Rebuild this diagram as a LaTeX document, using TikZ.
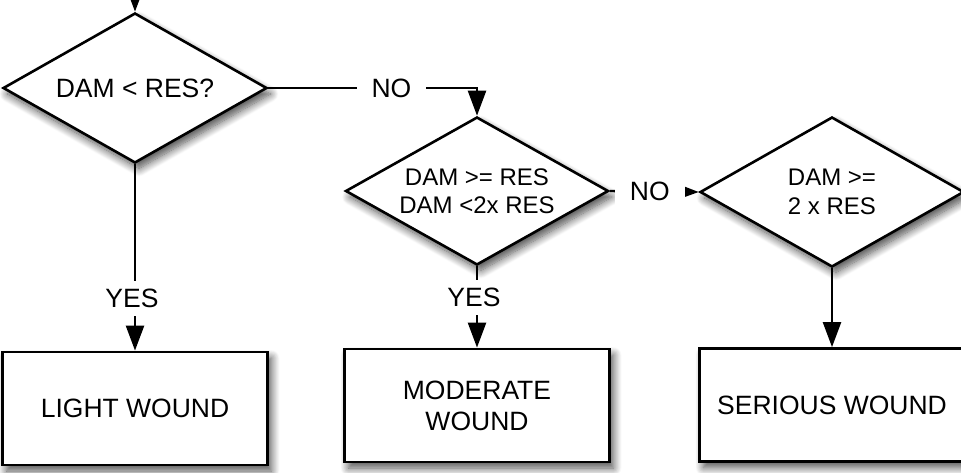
\documentclass[tikz,border=0pt]{standalone}
\usepackage{fontspec}
\setmainfont{Liberation Sans}
\usetikzlibrary{shapes.geometric,arrows.meta,shadows.blur}
\newcommand\bigtxt{\fontsize{26.5}{31}\selectfont}
\newcommand\midtxt{\fontsize{24}{28.5}\selectfont}
\begin{document}
\begin{tikzpicture}[x=1pt,y=-1pt,
  softshadow/.style={blur shadow={shadow xshift=4pt,shadow yshift=-6pt,shadow blur radius=8pt,shadow blur steps=12,shadow opacity=70}},
  decision/.style={diamond,draw,line width=2.6pt,fill=white,softshadow,inner sep=0pt,aspect=1.76,minimum width=264pt,minimum height=150pt,align=center},
  outcome/.style={rectangle,draw,line width=2.8pt,fill=white,softshadow,minimum width=265pt,minimum height=113pt,align=center,font=\bigtxt},
  flow/.style={line width=2.4pt,-{Triangle[length=25pt,width=18pt]}},
  lbl/.style={fill=white,inner xsep=15pt,inner ysep=8pt,font=\bigtxt}
]
\useasboundingbox (0,0) rectangle (961,472);
\clip (0,0) rectangle (961,472);
\node[decision,font=\bigtxt] (d1) at (135,88) {DAM < RES?};
\node[decision,font=\midtxt,minimum width=263pt,minimum height=148pt] (d2) at (477,191) {DAM >= RES\\DAM <2x RES};
\node[decision,font=\midtxt] (d3) at (832,192) {DAM >=\\2 x RES};
\node[outcome] (b1) at (135,408.5) {LIGHT WOUND};
\node[outcome] (b2) at (477,405.5) {MODERATE\\WOUND};
\node[outcome] (b3) at (832,405) {SERIOUS WOUND};
\coordinate (top) at (135,-40);
\draw[flow] (top) -- (d1.north);
\draw[flow] (d1.east) -| node[lbl,pos=0.295]{NO} (d2.north);
\draw[flow] (d2.east) -- node[lbl,pos=0.45]{NO} (d3.west);
\draw[flow] (d1.south) -- node[lbl,pos=0.72,xshift=-3pt]{YES} (b1.north);
\draw[flow] (d2.south) -- node[lbl,pos=0.38,xshift=-3pt]{YES} (b2.north);
\draw[flow] (d3.south) -- (b3.north);
\end{tikzpicture}
\end{document}
